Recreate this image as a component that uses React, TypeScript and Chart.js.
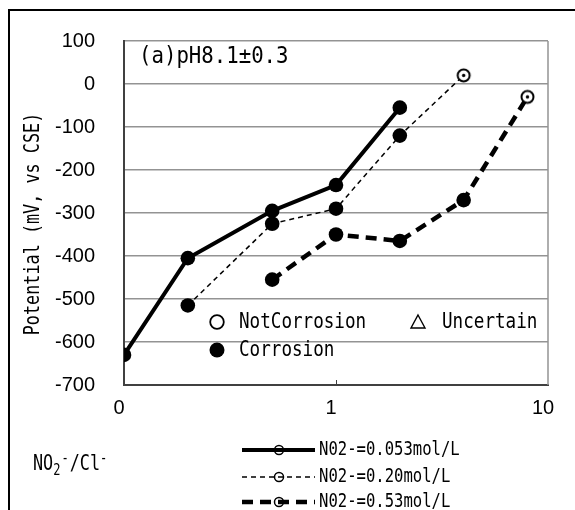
import React, { useEffect, useRef } from 'react';
import { Chart, registerables } from 'chart.js';

Chart.register(...registerables);

// ---- data ----
const seriesLabels = ['N02-=0.053mol/L', 'N02-=0.20mol/L', 'N02-=0.53mol/L'];
const ratio1 = [0.1, 0.2, 0.5, 1, 2];
const potential1 = [-630, -405, -295, -235, -55];
const state1 = ['C', 'C', 'C', 'C', 'C'];
const ratio2 = [0.2, 0.5, 1, 2, 4];
const potential2 = [-515, -325, -290, -120, 20];
const state2 = ['C', 'C', 'C', 'C', 'N'];
const ratio3 = [0.5, 1, 2, 4, 8];
const potential3 = [-455, -350, -365, -270, -30];
const state3 = ['C', 'C', 'C', 'C', 'N'];
const xTickValues = [0.1, 1, 10];
const xTickLabels = ['0', '1', '10'];
const yMin = -700;
const yMax = 100;
const yStep = 100;
const panelTitle = '(a)pH8.1±0.3';
const yTitle = 'Potential (mV, vs CSE)';
const noteNot = 'NotCorrosion';
const noteUnc = 'Uncertain';
const noteCor = 'Corrosion';

// ---- styles ----
const monoFont = "'DejaVu Sans Mono', monospace";
const tickFont = "'Liberation Sans', Arial, sans-serif";
const lineWidths = [4, 1.5, 4.5];
const lineDashes: number[][] = [[], [5, 4], [11, 7]];

function makeOpenMarker(): HTMLCanvasElement {
  const c = document.createElement('canvas');
  c.width = 17;
  c.height = 17;
  const g = c.getContext('2d')!;
  g.beginPath();
  g.arc(8.5, 8.5, 6, 0, Math.PI * 2);
  g.fillStyle = '#fff';
  g.fill();
  g.lineWidth = 2;
  g.strokeStyle = '#000';
  g.stroke();
  g.beginPath();
  g.arc(8.5, 8.5, 1.7, 0, Math.PI * 2);
  g.fillStyle = '#000';
  g.fill();
  return c;
}

function drawText(ctx: CanvasRenderingContext2D, text: string, x: number, y: number, size: number, sx: number, align: CanvasTextAlign = 'left') {
  ctx.save();
  ctx.font = `${size}px ${monoFont}`;
  ctx.textBaseline = 'middle';
  ctx.textAlign = align;
  ctx.fillStyle = '#000';
  ctx.translate(x, y);
  ctx.scale(sx, 1);
  ctx.fillText(text, 0, 0);
  ctx.restore();
}

const decorPlugin = {
  id: 'decor',
  afterDraw(chart: any) {
    const ctx: CanvasRenderingContext2D = chart.ctx;
    const area = chart.chartArea;
    const xs = chart.scales.x;
    ctx.save();
    // outer frame (top + left)
    ctx.strokeStyle = '#000';
    ctx.lineWidth = 2;
    ctx.beginPath();
    ctx.moveTo(9, 512);
    ctx.lineTo(9, 10);
    ctx.lineTo(580, 10);
    ctx.stroke();
    // right border of plot
    ctx.strokeStyle = '#939393';
    ctx.lineWidth = 1.5;
    ctx.beginPath();
    ctx.moveTo(area.right, area.top);
    ctx.lineTo(area.right, area.bottom);
    ctx.stroke();
    // small tick at 1
    ctx.strokeStyle = '#404040';
    ctx.lineWidth = 1;
    const x1 = Math.round(xs.getPixelForValue(1)) + 0.5;
    ctx.beginPath();
    ctx.moveTo(x1, area.bottom);
    ctx.lineTo(x1, area.bottom - 5);
    ctx.stroke();

    // panel title
    drawText(ctx, panelTitle, 139, 57, 23, 0.9);

    // condition notes
    ctx.strokeStyle = '#000';
    ctx.lineWidth = 1.8;
    ctx.beginPath();
    ctx.arc(217, 322, 6.8, 0, Math.PI * 2);
    ctx.stroke();
    drawText(ctx, noteNot, 239, 322, 22, 0.8);
    ctx.lineWidth = 1.4;
    ctx.beginPath();
    ctx.moveTo(418, 315);
    ctx.lineTo(425, 328);
    ctx.lineTo(411, 328);
    ctx.closePath();
    ctx.stroke();
    drawText(ctx, noteUnc, 442, 322, 22, 0.8);
    ctx.fillStyle = '#000';
    ctx.beginPath();
    ctx.arc(217, 350, 7.5, 0, Math.PI * 2);
    ctx.fill();
    drawText(ctx, noteCor, 239, 350, 22, 0.8);

    // y axis title
    ctx.save();
    ctx.translate(34, 224);
    ctx.rotate(-Math.PI / 2);
    ctx.font = `21px ${monoFont}`;
    ctx.textAlign = 'center';
    ctx.textBaseline = 'middle';
    ctx.scale(0.8, 1);
    ctx.fillStyle = '#000';
    ctx.fillText(yTitle, 0, 0);
    ctx.restore();

    // x axis title NO2-/Cl-
    ctx.save();
    ctx.fillStyle = '#000';
    ctx.textBaseline = 'middle';
    ctx.textAlign = 'left';
    const parts: [string, number, number][] = [
      ['NO', 21, 0],
      ['2', 15, 6],
      ['-', 15, -6],
      ['/Cl', 21, 0],
      ['-', 15, -6],
    ];
    let cx = 33;
    for (const [t, s, dy] of parts) {
      ctx.save();
      ctx.font = `${s}px ${monoFont}`;
      ctx.translate(cx, 465 + dy);
      ctx.scale(0.8, 1);
      ctx.fillText(t, 0, 0);
      const w = ctx.measureText(t).width * 0.8;
      ctx.restore();
      cx += w + (s < 21 ? 1 : 0);
    }
    ctx.restore();

    // legend
    const rows = [450, 477, 502];
    chart.data.datasets.forEach((ds: any, i: number) => {
      const y = rows[i];
      ctx.save();
      ctx.strokeStyle = '#000';
      ctx.lineWidth = ds.borderWidth;
      ctx.setLineDash(ds.borderDash || []);
      ctx.lineCap = 'butt';
      ctx.beginPath();
      ctx.moveTo(242, y);
      ctx.lineTo(315, y);
      ctx.stroke();
      ctx.setLineDash([]);
      ctx.lineWidth = 1.5;
      ctx.beginPath();
      ctx.arc(279, y, 4.5, 0, Math.PI * 2);
      ctx.stroke();
      ctx.restore();
      drawText(ctx, ds.label, 319, y, 19, 0.82);
    });
    ctx.restore();
  },
};

export default function App() {
  const ref = useRef<HTMLCanvasElement | null>(null);
  useEffect(() => {
    if (!ref.current) return;
    const openMarker = makeOpenMarker();
    const mk = (label: string, xs: number[], ys: number[], st: string[], i: number) => ({
      label,
      data: xs.map((x, k) => ({ x, y: ys[k] })),
      borderColor: '#000',
      backgroundColor: '#000',
      borderWidth: lineWidths[i],
      borderDash: lineDashes[i],
      pointStyle: st.map((s) => (s === 'N' ? openMarker : 'circle')),
      pointRadius: st.map((s) => (s === 'N' ? 6.5 : 7.3)),
      pointBackgroundColor: '#000',
      pointBorderColor: '#000',
      pointBorderWidth: 0,
      fill: false,
      tension: 0,
    });
    const chart = new Chart(ref.current, {
      type: 'line',
      data: {
        datasets: [
          mk(seriesLabels[0], ratio1, potential1, state1, 0),
          mk(seriesLabels[1], ratio2, potential2, state2, 1),
          mk(seriesLabels[2], ratio3, potential3, state3, 2),
        ],
      },
      options: {
        animation: false,
        responsive: true,
        maintainAspectRatio: false,
        events: [],
        layout: { padding: { left: 0, right: 27, top: 34, bottom: 0 } },
        plugins: { legend: { display: false }, tooltip: { enabled: false } },
        scales: {
          x: {
            type: 'logarithmic',
            min: xTickValues[0],
            max: xTickValues[xTickValues.length - 1],
            afterBuildTicks: (s: any) => {
              s.ticks = xTickValues.map((v) => ({ value: v }));
            },
            afterFit: (s: any) => {
              s.height = 125;
            },
            ticks: {
              autoSkip: false,
              maxRotation: 0,
              padding: 11,
              labelOffset: -5,
              color: '#000',
              font: { family: tickFont, size: 20 },
              callback: (v: any) => {
                const k = xTickValues.indexOf(Number(v));
                return k >= 0 ? xTickLabels[k] : '';
              },
            },
            grid: { display: false, drawTicks: false },
            border: { display: true, color: '#404040', width: 2 },
          },
          y: {
            min: yMin,
            max: yMax,
            afterFit: (s: any) => {
              s.width = 124;
            },
            ticks: {
              stepSize: yStep,
              padding: 29,
              color: '#000',
              font: { family: tickFont, size: 20 },
            },
            grid: {
              drawTicks: false,
              lineWidth: 1.5,
              color: (c: any) => (c.tick && c.tick.value === yMin ? 'rgba(0,0,0,0)' : '#939393'),
            },
            border: { display: true, color: '#404040', width: 2 },
          },
        },
      },
      plugins: [decorPlugin],
    } as any);
    return () => chart.destroy();
  }, []);
  return (
    <div style={{ position: 'absolute', left: 0, top: 0, width: 575, height: 510, background: '#fff' }}>
      <canvas ref={ref} />
    </div>
  );
}
